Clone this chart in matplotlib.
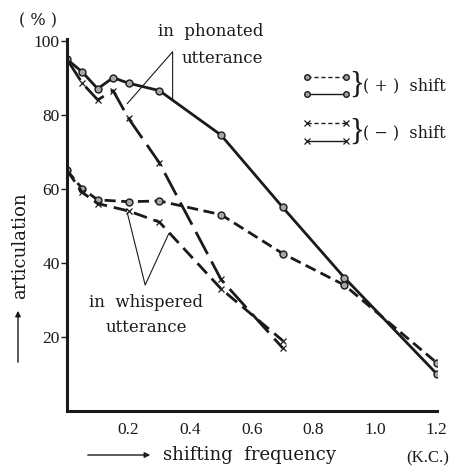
import matplotlib.pyplot as plt

# articulation (%) vs shifting frequency (K.C.)
phon_pos_x = [0, 0.05, 0.1, 0.15, 0.2, 0.3, 0.5, 0.7, 0.9, 1.2]
phon_pos_y = [95, 91.5, 87, 90, 88.5, 86.5, 74.5, 55, 36, 10]

phon_neg_x = [0, 0.05, 0.1, 0.15, 0.2, 0.3, 0.5, 0.7]
phon_neg_y = [95, 88.5, 84, 86.5, 79, 67, 35.5, 17]

whis_pos_x = [0, 0.05, 0.1, 0.2, 0.3, 0.5, 0.7, 0.9, 1.2]
whis_pos_y = [65, 60, 57, 56.5, 56.7, 53, 42.5, 34, 13]

whis_neg_x = [0, 0.05, 0.1, 0.2, 0.3, 0.5, 0.7]
whis_neg_y = [65, 59, 56, 54, 51, 33, 19]

x_ticks = [0.2, 0.4, 0.6, 0.8, 1.0, 1.2]
y_ticks = [20, 40, 60, 80, 100]

ink = '#1a1a1a'
plt.rcParams['font.family'] = ['DejaVu Serif']

fig = plt.figure(figsize=(4.55, 4.67), dpi=100)
ax = fig.add_axes([0.147, 0.12, 0.813, 0.797])

circ = dict(marker='o', ms=5, mfc='0.65', mec=ink, mew=1)
cross = dict(marker='x', ms=4, mec=ink, mew=0.9)

ax.plot(phon_pos_x, phon_pos_y, color=ink, lw=2, **circ)
ax.plot(phon_neg_x, phon_neg_y, color=ink, lw=2, dashes=(9, 3), markevery=range(1, len(phon_neg_x)), **cross)
ax.plot(whis_pos_x, whis_pos_y, color=ink, lw=2, dashes=(4, 2), **circ)
ax.plot(whis_neg_x, whis_neg_y, color=ink, lw=2, dashes=(5, 2.5), markevery=range(1, len(whis_neg_x)), **cross)

ax.set_xlim(0, 1.2)
ax.set_ylim(0, 100.5)
ax.spines['top'].set_visible(False)
ax.spines['right'].set_visible(False)
ax.spines['left'].set_linewidth(2.2)
ax.spines['bottom'].set_linewidth(2.2)
ax.spines['left'].set_color(ink)
ax.spines['bottom'].set_color(ink)

ax.set_xticks(x_ticks)
ax.set_xticklabels(['0.2', '0.4', '0.6', '0.8', '1.0', '1.2'])
ax.set_yticks(y_ticks)
for lab in ax.get_xticklabels() + ax.get_yticklabels():
    lab.set_family('Liberation Serif')
ax.tick_params(axis='x', length=0, pad=8, labelsize=12.5, colors=ink)
ax.tick_params(axis='y', length=4, width=1, pad=1, labelsize=12.5, colors=ink)

# annotations
fs = 12
ax.text(0.636, 102.4, 'in  phonated', ha='right', va='center', fontsize=fs, color=ink)
ax.text(0.636, 95.2, 'utterance', ha='right', va='center', fontsize=fs, color=ink)
ax.plot([0.196, 0.343, 0.343], [83, 97, 84.4], color=ink, lw=0.8)

ax.text(0.258, 29.3, 'in  whispered', ha='center', va='center', fontsize=fs, color=ink)
ax.text(0.258, 22.6, 'utterance', ha='center', va='center', fontsize=fs, color=ink)
ax.plot([0.196, 0.254, 0.33], [53.5, 34, 47.8], color=ink, lw=0.8)

# legend drawn by hand
leg_x = [0.78, 0.905]
for y, ls, mk in [(90.3, (3, 2), circ), (85.5, '-', circ), (77.7, (3, 2), cross), (72.8, '-', cross)]:
    if ls == '-':
        ax.plot(leg_x, [y, y], color=ink, lw=1, ls='-', **dict(mk, ms=4))
    else:
        ax.plot(leg_x, [y, y], color=ink, lw=1, dashes=ls, **dict(mk, ms=4))
ax.text(0.915, 87.9, '}', ha='left', va='center', fontsize=22, color=ink, family='Liberation Serif')
ax.text(0.962, 87.9, '( + )  shift', ha='left', va='center', fontsize=11.5, color=ink)
ax.text(0.915, 75.2, '}', ha='left', va='center', fontsize=22, color=ink, family='Liberation Serif')
ax.text(0.962, 75.2, '( \u2212 )  shift', ha='left', va='center', fontsize=11.5, color=ink)

# axis labels
fig.text(38 / 455, 1 - 21 / 467, '( % )', ha='center', va='center', fontsize=11.5, color=ink)
fig.text(20 / 455, 1 - 246 / 467, 'articulation', rotation=90, ha='center', va='center', fontsize=13, color=ink)
fig.text(249 / 455, 1 - 455 / 467, 'shifting  frequency', ha='center', va='center', fontsize=13, color=ink)
fig.text(428 / 455, 1 - 458 / 467, '(K.C.)', ha='center', va='center', fontsize=12, color=ink,
         family='Liberation Serif')
arrow = dict(arrowstyle='-|>', color=ink, lw=1, mutation_scale=8)
fig.add_artist(plt.Annotation('', xy=(18 / 455, 1 - 308 / 467), xytext=(18 / 455, 1 - 365 / 467),
                              xycoords='figure fraction', arrowprops=arrow))
fig.add_artist(plt.Annotation('', xy=(153 / 455, 1 - 455 / 467), xytext=(85 / 455, 1 - 455 / 467),
                              xycoords='figure fraction', arrowprops=arrow))

fig.savefig('out.png', dpi=100)
